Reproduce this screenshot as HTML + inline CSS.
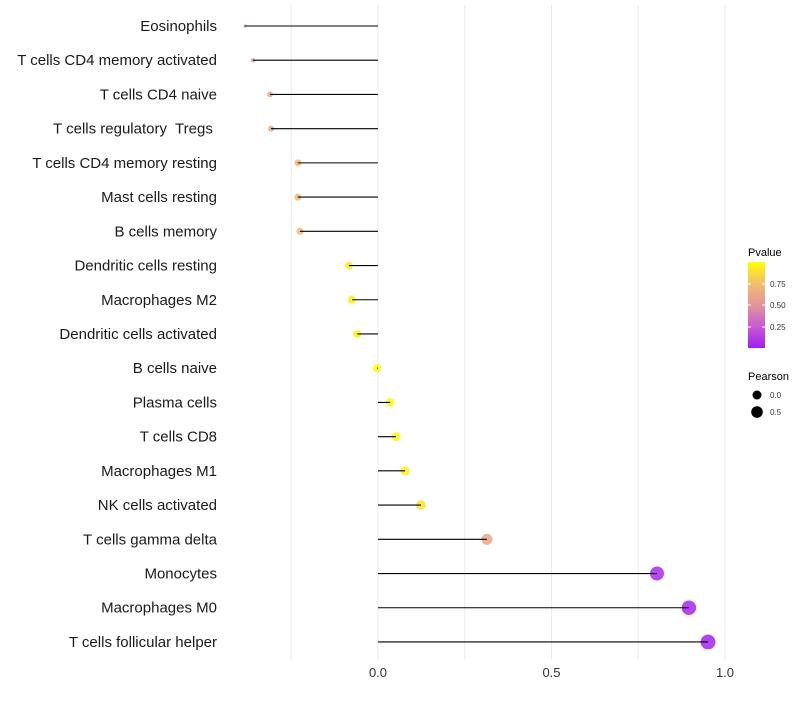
<!DOCTYPE html>
<html><head><meta charset="utf-8"><style>
body{margin:0;background:#fff;font-family:"Liberation Sans",sans-serif}
text{white-space:pre}
</style></head><body>
<svg id="c" width="800" height="700" xmlns="http://www.w3.org/2000/svg"></svg>
<script>
const categories=["Eosinophils","T cells CD4 memory activated","T cells CD4 naive","T cells regulatory  Tregs ","T cells CD4 memory resting","Mast cells resting","B cells memory","Dendritic cells resting","Macrophages M2","Dendritic cells activated","B cells naive","Plasma cells","T cells CD8","Macrophages M1","NK cells activated","T cells gamma delta","Monocytes","Macrophages M0","T cells follicular helper"];
const pearson=[-0.383,-0.36,-0.311,-0.308,-0.231,-0.231,-0.225,-0.084,-0.075,-0.06,-0.003,0.035,0.052,0.078,0.124,0.314,0.804,0.896,0.951];
const pvalue=[0.42,0.45,0.62,0.62,0.72,0.72,0.74,0.93,0.94,0.95,1.0,0.98,0.97,0.95,0.9,0.6,0.05,0.03,0.02];
const xTicks=[0,0.5,1.0];
const xTickLabels=["0.0","0.5","1.0"];
const gridVals=[-0.25,0,0.25,0.5,0.75,1.0];
const svg=document.getElementById('c');const NS="http://www.w3.org/2000/svg";
const X=v=>378+v*347;const Y=i=>26+i*34.22;
function mk(t,a,p){const e=document.createElementNS(NS,t);for(const k in a)e.setAttribute(k,a[k]);(p||svg).appendChild(e);return e;}
const stops=[[0,[160,32,240]],[0.25,[200,90,210]],[0.5,[228,148,155]],[0.75,[243,190,110]],[1,[255,255,0]]];
function col(p){for(let i=1;i<stops.length;i++){if(p<=stops[i][0]){const a=stops[i-1],b=stops[i],t=(p-a[0])/(b[0]-a[0]);return 'rgb('+a[1].map((c,j)=>Math.round(c+(b[1][j]-c)*t)).join(',')+')';}}return 'rgb(255,255,0)';}
const sizeScale=[[-0.4,1.2],[-0.36,2],[-0.31,3],[-0.23,3.5],[-0.08,4],[0,4.2],[0.12,4.8],[0.31,5.5],[0.8,7],[1.0,7.6]];
function R(v){for(let i=1;i<sizeScale.length;i++){if(v<=sizeScale[i][0]){const a=sizeScale[i-1],b=sizeScale[i];return a[1]+(b[1]-a[1])*(v-a[0])/(b[0]-a[0]);}}return 7.6;}
gridVals.forEach(g=>{const l=mk('line',{x1:X(g),x2:X(g),y1:5,y2:660,stroke:'#ebebeb','stroke-width':1});
});
categories.forEach((c,i)=>{const y=Y(i);
const t=mk('text',{x:217,y:y+5,'text-anchor':'end','font-size':15,fill:'#1a1a1a'});t.textContent=c;

const p=mk('circle',{cx:X(pearson[i]),cy:y,r:R(pearson[i]),fill:col(pvalue[i]),'fill-opacity':0.85});

const l=mk('line',{x1:X(0),x2:X(pearson[i]),y1:y,y2:y,stroke:'#000','stroke-width':1.1});
});
xTicks.forEach((v,i)=>{const t=mk('text',{x:X(v),y:677,'text-anchor':'middle','font-size':13,fill:'#333'});t.textContent=xTickLabels[i];
});
const lg=mk('g',{});
const tt=mk('text',{x:748,y:256,'font-size':11,fill:'#000'},lg);tt.textContent='Pvalue';
const defs=mk('defs',{},lg);const gr=mk('linearGradient',{id:'gr',x1:0,y1:1,x2:0,y2:0},defs);
stops.forEach(s=>mk('stop',{offset:s[0],'stop-color':col(s[0])},gr));
const bar=mk('rect',{x:748,y:262,width:17,height:86,fill:'url(#gr)'},lg);
[[0.75,284],[0.5,305],[0.25,327]].forEach(a=>{mk('line',{x1:748,x2:751,y1:a[1],y2:a[1],stroke:'#fff'},lg);mk('line',{x1:762,x2:765,y1:a[1],y2:a[1],stroke:'#fff'},lg);
const t=mk('text',{x:770,y:a[1]+3,'font-size':8,fill:'#333'},lg);t.textContent=a[0].toFixed(2);});
const pt=mk('text',{x:748,y:380,'font-size':11,fill:'#000'},lg);pt.textContent='Pearson';
mk('circle',{cx:757,cy:395,r:4.5,fill:'#000'},lg);const a1=mk('text',{x:770,y:398,'font-size':8,fill:'#333'},lg);a1.textContent='0.0';
mk('circle',{cx:757,cy:412,r:5.8,fill:'#000'},lg);const a2=mk('text',{x:770,y:415,'font-size':8,fill:'#333'},lg);a2.textContent='0.5';
</script>
</body></html>
